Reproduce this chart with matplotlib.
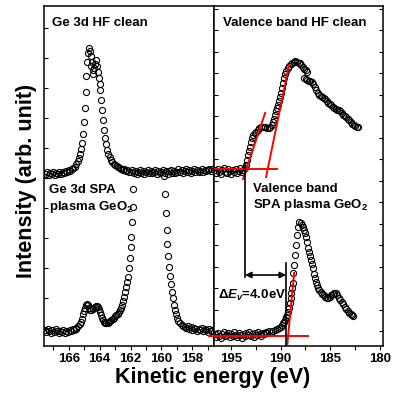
import numpy as np
import matplotlib

matplotlib.use("Agg")
import matplotlib.pyplot as plt
from matplotlib.ticker import MultipleLocator

plt.rcParams["font.family"] = ["Liberation Sans", "DejaVu Sans"]
plt.rcParams["font.weight"] = "bold"
plt.rcParams["mathtext.fontset"] = "custom"
plt.rcParams["mathtext.rm"] = "Liberation Sans:bold"
plt.rcParams["mathtext.it"] = "Liberation Sans:italic:bold"
plt.rcParams["mathtext.bf"] = "Liberation Sans:bold"

# ---- Ge 3d, HF clean (kinetic energy eV, intensity arb.)
ge_hf_e = [167.5, 167.4, 167.3, 167.2, 167.1, 167.0, 166.9, 166.8, 166.7, 166.6,
           166.5, 166.4, 166.3, 166.2, 166.1, 166.0, 165.9, 165.8, 165.7,
           165.6, 165.5, 165.4, 165.32, 165.26, 165.2, 165.13, 165.07, 165.0, 164.94,
           164.88, 164.86, 164.8, 164.74, 164.68, 164.64, 164.58, 164.55, 164.5, 164.45,
           164.4, 164.35, 164.28, 164.22, 164.18, 164.12, 164.05, 164.0, 163.96, 163.92,
           163.86, 163.8, 163.74, 163.68, 163.6, 163.52, 163.44, 163.36, 163.28, 163.2,
           163.1, 163.0, 162.9, 162.8, 162.7, 162.6, 162.5, 162.4, 162.3, 162.2, 162.1,
           162.0, 161.9, 161.8, 161.7, 161.6, 161.5, 161.4, 161.3, 161.2, 161.1,
           161.0, 160.9, 160.8, 160.7, 160.6, 160.5, 160.4, 160.3, 160.2, 160.1,
           160.0, 159.9, 159.8, 159.7, 159.6, 159.5, 159.4, 159.3, 159.2, 159.1,
           159.0, 158.9, 158.8, 158.7, 158.6, 158.5, 158.4, 158.3, 158.2, 158.1,
           158.0, 157.9, 157.8, 157.7, 157.6, 157.5, 157.4, 157.3, 157.2, 157.1,
           157.0, 156.9, 156.8, 156.7]
ge_hf_i = [172, 174, 171, 173, 172, 174, 171, 173, 172, 174,
           172, 174, 173, 175, 174, 176, 175, 177, 178,
           179, 182, 185, 188, 192, 197, 203, 212, 224, 238,
           254, 270, 284, 293, 298, 295, 290, 280, 284, 276,
           272, 278, 282, 286, 280, 274, 268, 262, 256, 246,
           236, 226, 216, 208, 202, 196, 192, 189, 186, 184,
           182, 181, 180, 179, 178, 177, 176, 177, 175, 176, 174,
           174, 176, 173, 175, 172, 174, 176, 173, 175, 172,
           174, 176, 173, 175, 173, 174, 176, 172, 175, 173,
           174, 176, 173, 175, 172, 175, 176, 173, 175, 173,
           174, 177, 174, 176, 173, 175, 177, 174, 176, 173,
           175, 177, 174, 176, 174, 175, 177, 174, 176, 175,
           176, 177, 175, 177]

# ---- Ge 3d, SPA plasma GeO2
ge_spa_e = [167.55, 167.45, 167.35, 167.25, 167.15, 167.05, 166.95, 166.85, 166.75, 166.65,
            166.55, 166.45, 166.35, 166.25, 166.15, 166.05, 165.95, 165.85, 165.75, 165.65,
            165.55, 165.5, 165.4, 165.3, 165.2, 165.13, 165.07,
            165.0, 164.94, 164.87, 164.81, 164.74, 164.68, 164.6, 164.53, 164.46, 164.4,
            164.33, 164.26, 164.2, 164.13, 164.07, 164.0, 163.93, 163.86, 163.8, 163.72,
            163.64, 163.56, 163.48, 163.4, 163.32, 163.24, 163.16, 163.08, 163.0, 162.92,
            162.84, 162.76, 162.68, 162.6, 162.54, 162.47, 162.41, 162.34, 162.28, 162.2,
            162.15, 162.08, 162.02, 161.98, 161.95, 161.89, 161.84, 161.82,
            159.81, 159.78, 159.72, 159.66, 159.61, 159.55, 159.5, 159.44, 159.38, 159.32,
            159.26, 159.2, 159.12, 159.05, 158.98, 158.9, 158.8, 158.7, 158.6,
            158.5, 158.4, 158.3, 158.2, 158.1, 158.0, 157.9, 157.8, 157.7, 157.6,
            157.5, 157.4, 157.3, 157.2, 157.1, 157.0, 156.9, 156.8, 156.7]
ge_spa_i = [16, 14, 17, 15, 13, 16, 14, 17, 15, 13,
            15, 14, 16, 13, 15, 14, 16, 15, 17, 16,
            17, 18, 20, 22, 24, 27, 32,
            35, 38, 41, 42, 41, 38, 36, 36, 37, 38,
            39, 40, 40, 39, 37, 34, 31, 28, 26, 24,
            23, 23, 23, 24, 25, 26, 27, 28, 30, 31,
            32, 34, 36, 38, 41, 45, 49, 54, 59, 64,
            69, 78, 88, 99, 109, 124, 139, 157,
            170, 152, 133, 116, 102, 90, 79, 70, 62, 54,
            48, 41, 36, 32, 28, 25, 23, 21, 20,
            19, 18, 20, 17, 19, 16, 18, 17, 15, 17,
            16, 18, 15, 17, 16, 14, 17, 15, 16]

# ---- Valence band, HF clean
vb_hf_e = [196.6, 196.45, 196.3, 196.15, 196.0, 195.85, 195.7, 195.55, 195.4, 195.25,
           195.1, 194.95, 194.8, 194.65, 194.5, 194.35, 194.2, 194.05, 193.9, 193.75,
           193.6, 193.45, 193.38, 193.3, 193.2,
           193.07, 192.95, 192.85, 192.75, 192.6, 192.45, 192.3, 192.15, 192.0, 191.8,
           191.6, 191.4, 191.2, 191.05, 190.9, 190.8, 190.7, 190.6, 190.5, 190.4,
           190.3, 190.2, 190.1, 190.0, 189.9, 189.8, 189.7, 189.6, 189.45, 189.3,
           189.15, 189.0, 188.85, 188.7, 188.55, 188.4, 188.2, 188.05, 187.9, 187.75,
           187.6, 187.45, 187.35,
           187.6, 187.45, 187.3, 187.15, 187.0, 186.85, 186.7, 186.55, 186.4, 186.25,
           186.1, 185.95, 185.8, 185.65, 185.5, 185.35, 185.2, 185.05, 184.9, 184.75,
           184.6, 184.45, 184.3, 184.15, 184.0, 183.85, 183.7, 183.55, 183.4, 183.25,
           183.1, 182.95, 182.8, 182.65, 182.5, 182.35, 182.2]
vb_hf_i = [176, 173, 177, 174, 172, 176, 178, 174, 173, 177,
           175, 172, 176, 174, 177, 173, 175, 178, 174, 176,
           178, 181, 186, 191, 195,
           199, 204, 208, 211, 213, 214, 216, 218, 219, 219,
           219, 218, 218, 219, 221, 224, 227, 231, 235, 238,
           241, 245, 249, 253, 258, 263, 268, 272, 275, 278,
           280, 282, 283, 284, 285, 284, 283, 283, 281, 279,
           277, 276, 274,
           268, 267, 266, 265, 265, 264, 262, 259, 256, 253,
           251, 250, 249, 248, 247, 245, 243, 242, 241, 239,
           238, 237, 236, 236, 235, 233, 231, 230, 229, 227,
           226, 224, 222, 221, 220, 219, 219]

# ---- Valence band, SPA plasma GeO2
vb_spa_e = [196.6, 196.45, 196.3, 196.15, 196.0, 195.85, 195.7, 195.55, 195.4, 195.25,
            195.1, 194.95, 194.8, 194.65, 194.5, 194.35, 194.2, 194.05, 193.9, 193.75,
            193.6, 193.45, 193.3, 193.15, 193.0, 192.85, 192.7, 192.55, 192.4, 192.25,
            192.1, 191.95, 191.8, 191.65, 191.5, 191.35, 191.2, 191.0, 190.8,
            190.6, 190.4, 190.2, 190.0, 189.9, 189.8, 189.7, 189.6, 189.5, 189.4,
            189.3, 189.2, 189.1, 189.0, 188.95, 188.88, 188.8, 188.74, 188.66, 188.56,
            188.44, 188.34, 188.22, 188.1, 187.95, 187.8, 187.7, 187.6, 187.5, 187.4,
            187.3, 187.2, 187.13, 187.03, 186.93, 186.83, 186.73, 186.63, 186.53, 186.43,
            186.33, 186.23, 186.1, 185.95, 185.8, 185.65, 185.5, 185.35, 185.2, 185.05,
            184.9, 184.75, 184.6, 184.45, 184.3, 184.15, 184.0, 183.85, 183.7, 183.55,
            183.4, 183.25, 183.1, 182.95, 182.8, 182.7]
vb_spa_i = [12, 9, 13, 10, 8, 12, 14, 10, 11, 13,
            9, 12, 10, 14, 11, 9, 13, 11, 8, 12,
            10, 13, 11, 14, 10, 12, 9, 13, 11, 14,
            12, 10, 13, 12, 14, 13, 15, 14, 15,
            16, 17, 18, 19, 21, 23, 24, 26, 29, 31,
            34, 38, 43, 48, 53, 58, 63, 73, 81, 91,
            101, 111, 119, 124, 123, 121, 119, 116, 113, 109,
            104, 98, 94, 90, 86, 82, 78, 72, 68, 64,
            61, 58, 56, 54, 52, 51, 49, 48, 48, 49,
            51, 52, 53, 53, 51, 48, 46, 44, 42, 39,
            37, 35, 33, 32, 31, 30]

# band-edge construction lines (eV, intensity)
hf_base = ([196.7, 190.4], [177, 177])
hf_tan1 = ([193.78, 191.56], [167, 233])
hf_tan2 = ([191.46, 189.15], [169, 281])
spa_base = ([197.2, 187.2], [10, 10])
spa_tan = ([189.35, 188.64], [-1, 73])
edge_hf = 193.58
edge_spa = 189.45

fig = plt.figure(figsize=(4.01, 3.93), dpi=100)
ax1 = fig.add_axes([44 / 401, 47 / 393, 170 / 401, 340 / 393])
ax2 = fig.add_axes([214 / 401, 47 / 393, 169 / 401, 340 / 393])

mk = dict(ls="none", marker="o", ms=4.4, mfc="none", mec="black", mew=0.8)
ax1.plot(ge_hf_e, ge_hf_i, **mk)
ax1.plot(ge_spa_e, ge_spa_i, **mk)
ax2.plot(vb_hf_e, vb_hf_i, **mk)
ax2.plot(vb_spa_e, vb_spa_i, **mk)

red = dict(color="red", lw=1.4, zorder=4)
ax2.plot(*hf_base, **red)
ax2.plot(*hf_tan1, **red)
ax2.plot(*hf_tan2, **red)
ax2.plot(*spa_base, clip_on=False, **red)
ax2.plot(*spa_tan, **red)
ax2.plot([edge_hf, edge_hf], [183, 69], color="black", lw=1.2, zorder=5)
ax2.plot([edge_spa, edge_spa], [83, 0], color="black", lw=1.2, zorder=5)
ax2.annotate("", xy=(edge_hf, 71), xytext=(edge_spa, 71),
             arrowprops=dict(arrowstyle="<|-|>", color="black", lw=1.2,
                             mutation_scale=9, shrinkA=0, shrinkB=0))
ax2.text(196.3, 51, r"$\mathit{\Delta E_v}$=4.0eV", fontsize=9.5,
         fontweight="bold", va="center", ha="left")

ax1.set_xlim(167.6, 156.6)
ax2.set_xlim(196.7, 179.7)
for ax in (ax1, ax2):
    ax.set_ylim(0, 340)
    for s in ax.spines.values():
        s.set_linewidth(1.1)
    ax.tick_params(axis="x", which="both", direction="out", length=3,
                   width=0.8, labelsize=9.5, pad=2)
    ax.tick_params(axis="y", which="both", direction="in", length=3,
                   width=0.8, labelleft=False)
    for lab in ax.get_xticklabels():
        lab.set_fontweight("bold")

ax1.xaxis.set_major_locator(MultipleLocator(2))
ax1.xaxis.set_minor_locator(MultipleLocator(1))
ax2.xaxis.set_major_locator(MultipleLocator(5))
ax2.xaxis.set_minor_locator(MultipleLocator(2.5))
ax1.set_yticks(np.arange(18, 340, 30))
ax2.set_yticks(np.arange(15, 340, 21.5))
ax2.tick_params(axis="y", right=True, left=True)

ax1.text(0.047, 0.95, "Ge 3d HF clean", transform=ax1.transAxes,
         fontsize=9.5, va="center", ha="left")
ax1.text(0.03, 0.459, "Ge 3d SPA", transform=ax1.transAxes,
         fontsize=9.5, va="center", ha="left")
ax1.text(0.03, 0.409, r"plasma GeO$_2$", transform=ax1.transAxes,
         fontsize=9.5, va="center", ha="left")
ax2.text(0.053, 0.95, "Valence band HF clean", transform=ax2.transAxes,
         fontsize=9.5, va="center", ha="left")
ax2.text(0.231, 0.462, "Valence band", transform=ax2.transAxes,
         fontsize=9.5, va="center", ha="left")
ax2.text(0.231, 0.415, r"SPA plasma GeO$_2$", transform=ax2.transAxes,
         fontsize=9.5, va="center", ha="left")

fig.text(213 / 401, 1 - 378 / 393, "Kinetic energy (eV)", fontsize=15.5,
         fontweight="bold", ha="center", va="center")
fig.text(27 / 401, 1 - 181 / 393, "Intensity (arb. unit)", fontsize=15.5,
         fontweight="bold", ha="center", va="center", rotation=90)

fig.savefig("out.png", dpi=100)
